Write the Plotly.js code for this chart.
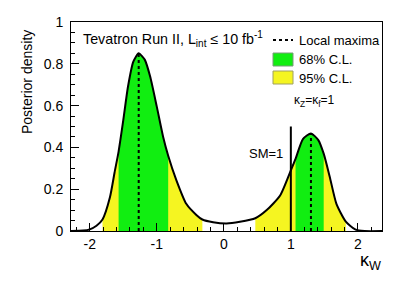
<!DOCTYPE html>
<html>
<head>
<meta charset="utf-8">
<script src="https://cdn.plot.ly/plotly-3.0.1.min.js"></script>
<style>html,body{margin:0;padding:0;background:#fff;}#chart{width:415px;height:282px;}</style>
</head>
<body>
<div id="chart"></div>
<script>
// Posterior density curve for kappa_W
const kappaW = [-2.28, -2.1, -2.0, -1.9, -1.81, -1.70, -1.63, -1.57, -1.50, -1.43, -1.35, -1.27, -1.18, -1.10, -1.00, -0.905, -0.83, -0.71, -0.56, -0.41, -0.32, -0.16, 0.04, 0.24, 0.47, 0.64, 0.84, 1.0, 1.07, 1.18, 1.30, 1.41, 1.49, 1.58, 1.68, 1.82, 1.96, 2.1, 2.36];
const density = [0, 0.002, 0.008, 0.025, 0.055, 0.16, 0.28, 0.38, 0.53, 0.69, 0.81, 0.85, 0.82, 0.74, 0.595, 0.45, 0.36, 0.245, 0.13, 0.077, 0.055, 0.042, 0.036, 0.044, 0.061, 0.10, 0.17, 0.29, 0.345, 0.44, 0.467, 0.435, 0.37, 0.26, 0.13, 0.045, 0.008, 0, 0];

// Credible intervals [low, high]
const cl95 = [[-1.81, -0.32], [0.47, 1.82]];
const cl68 = [[-1.57, -0.83], [1.07, 1.49]];

// Local maxima
const maxX = [-1.27, 1.30];
const maxY = [0.85, 0.467];

// SM reference
const smX = 1.0;
const smTop = 0.5;

const xTicks = [-2, -1, 0, 1, 2];
const xTickText = ['-2', '-1', '0', '1', '2'];
const yTicks = [0, 0.2, 0.4, 0.6, 0.8, 1];
const yTickText = ['0', '0.2', '0.4', '0.6', '0.8', '1'];

const GREEN = '#11ee11';
const YELLOW = '#f5f521';
const FONT = 'Liberation Sans, Arial, sans-serif';

function segment(lo, hi) {
  const xs = [], ys = [];
  for (let i = 0; i < kappaW.length; i++) {
    if (kappaW[i] >= lo - 1e-9 && kappaW[i] <= hi + 1e-9) { xs.push(kappaW[i]); ys.push(density[i]); }
  }
  return {xs, ys};
}

const traces = [];
function bandTraces(bands, color) {
  bands.forEach(b => {
    const s = segment(b[0], b[1]);
    traces.push({x: s.xs, y: s.ys, type: 'scatter', mode: 'lines', fill: 'tozeroy',
      fillcolor: color, line: {width: 0, color: color, shape: 'spline', smoothing: 0.6}, hoverinfo: 'skip', showlegend: false});
  });
}
bandTraces(cl95, YELLOW);
bandTraces(cl68, GREEN);

traces.push({x: kappaW, y: density, type: 'scatter', mode: 'lines',
  line: {color: '#000', width: 2, shape: 'spline', smoothing: 0.6}, showlegend: false});

maxX.forEach((mx, i) => {
  traces.push({x: [mx, mx], y: [0, maxY[i]], type: 'scatter', mode: 'lines',
    line: {color: '#000', width: 2, dash: 'dot'}, showlegend: false});
});
traces.push({x: [smX, smX], y: [0, smTop], type: 'scatter', mode: 'lines',
  line: {color: '#000', width: 2}, showlegend: false});

// pixel -> paper helpers (plot area 71..382 x, 22..231 y)
const L = 71, R = 382, T = 22, B = 231;
const px = v => (v - L) / (R - L);
const py = v => (B - v) / (B - T);

const layout = {
  width: 415, height: 282,
  margin: {l: L, r: 415 - R, t: T, b: 282 - B, pad: 0},
  paper_bgcolor: '#fff', plot_bgcolor: '#fff',
  font: {family: FONT, size: 14, color: '#000'},
  showlegend: false,
  xaxis: {
    range: [-2.28, 2.36], tickvals: xTicks, ticktext: xTickText,
    ticks: 'inside', ticklen: 8, tickwidth: 1, tickcolor: '#000',
    minor: {dtick: 0.2, ticks: 'inside', ticklen: 4, tickcolor: '#000', showgrid: false},
    showgrid: false, zeroline: false, showline: true, linecolor: '#000', linewidth: 1, mirror: true,
    tickfont: {size: 14}, fixedrange: true
  },
  yaxis: {
    range: [0, 1], tickvals: yTicks, ticktext: yTickText,
    ticks: 'inside', ticklen: 8, tickwidth: 1, tickcolor: '#000',
    minor: {dtick: 0.05, ticks: 'inside', ticklen: 4, tickcolor: '#000', showgrid: false},
    showgrid: false, zeroline: false, showline: true, linecolor: '#000', linewidth: 1, mirror: true,
    tickfont: {size: 14}, ticklabelstandoff: 4, fixedrange: true
  },
  shapes: [
    {type: 'line', xref: 'paper', yref: 'paper', x0: px(273), x1: px(293), y0: py(40), y1: py(40),
      line: {color: '#000', width: 2, dash: 'dot'}},
    {type: 'rect', xref: 'paper', yref: 'paper', x0: px(273), x1: px(293), y0: py(66), y1: py(53),
      fillcolor: GREEN, line: {color: '#7a9a7a', width: 1}},
    {type: 'rect', xref: 'paper', yref: 'paper', x0: px(273), x1: px(293), y0: py(84), y1: py(71),
      fillcolor: YELLOW, line: {color: '#a0a060', width: 1}}
  ],
  annotations: [
    {xref: 'paper', yref: 'paper', x: px(81), y: py(39), xanchor: 'left', yanchor: 'middle', showarrow: false,
      text: 'Tevatron Run II, L<sub>int</sub> ≤ 10 fb<sup>-1</sup>', font: {size: 14.3}},
    {xref: 'paper', yref: 'paper', x: px(297), y: py(40), xanchor: 'left', yanchor: 'middle', showarrow: false,
      text: 'Local maxima', font: {size: 13}},
    {xref: 'paper', yref: 'paper', x: px(297), y: py(60), xanchor: 'left', yanchor: 'middle', showarrow: false,
      text: '68% C.L.', font: {size: 13}},
    {xref: 'paper', yref: 'paper', x: px(297), y: py(78), xanchor: 'left', yanchor: 'middle', showarrow: false,
      text: '95% C.L.', font: {size: 13}},
    {xref: 'paper', yref: 'paper', x: px(314), y: py(101), xanchor: 'center', yanchor: 'middle', showarrow: false,
      text: 'κ<sub>Z</sub>=κ<sub>f</sub>=1', font: {size: 12}},
    {xref: 'paper', yref: 'paper', x: px(266), y: py(153), xanchor: 'center', yanchor: 'middle', showarrow: false,
      text: 'SM=1', font: {size: 13}},
    {xref: 'paper', yref: 'paper', x: px(383), y: py(261), xanchor: 'right', yanchor: 'middle', showarrow: false,
      text: 'κ<sub>W</sub>', font: {size: 18}},
    {xref: 'paper', yref: 'paper', x: px(27), y: py(28), xanchor: 'center', yanchor: 'top', showarrow: false,
      textangle: -90, text: 'Posterior density', font: {size: 14}}
  ]
};

Plotly.newPlot('chart', traces, layout, {staticPlot: true, displayModeBar: false});
</script>
</body>
</html>
